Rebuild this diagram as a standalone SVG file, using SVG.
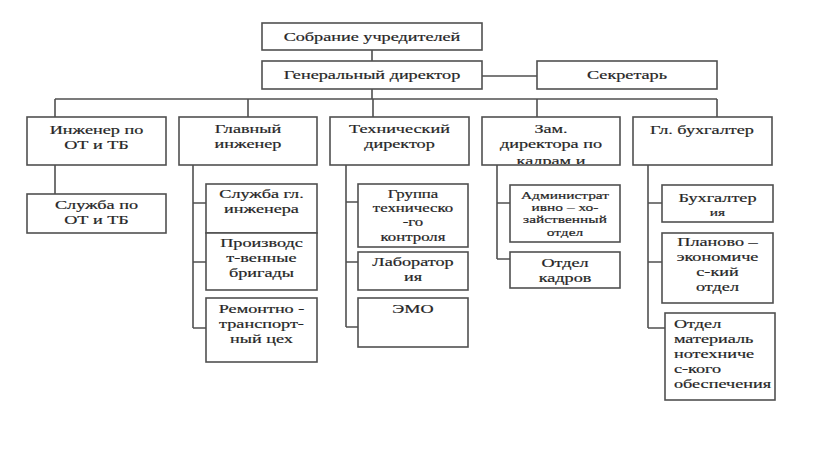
<svg xmlns="http://www.w3.org/2000/svg" width="830" height="452" viewBox="0 0 830 452">
<defs>
<style>
.bx{fill:#fff;stroke:#505050;stroke-width:1.6}
.ln{fill:none;stroke:#505050;stroke-width:1.6}
.t{font-family:"Liberation Serif","Times New Roman",serif;font-size:13px;fill:#262626;text-anchor:middle}
.t text{stroke:#262626;stroke-width:0.2}
.t text.s{font-size:11px}
.t text.m{font-size:12px}
.t text.l{text-anchor:start}
</style>
<clipPath id="c7"><rect x="482" y="117" width="138" height="47"/></clipPath>
</defs>
<rect width="830" height="452" fill="#fff"/>
<g id="connectors" class="ln">
<path d="M372 50V61M482 76H537M372 89V99M55 99H717M55 99V117M248 99V117M373 99V117M537 99V117M717 99V117"/>
<path d="M55 165V194"/>
<path d="M193 165V328M193 203H206M193 262H206M193 328H206"/>
<path d="M346 165V327M346 202H358M346 262H358M346 327H358"/>
<path d="M497 165V259M497 203H510M497 259H510"/>
<path d="M648 165V328M648 203H662M648 262H662M648 328H665"/>
</g>
<g id="n1"><rect class="bx" x="262" y="23" width="220" height="27"/><g class="t" transform="scale(1.4 1)"><text x="265.71" y="41">Собрание учредителей</text></g></g>
<g id="n2"><rect class="bx" x="262" y="61" width="220" height="28"/><g class="t" transform="scale(1.4 1)"><text x="265.71" y="79">Генеральный директор</text></g></g>
<g id="n3"><rect class="bx" x="537" y="61" width="180" height="28"/><g class="t" transform="scale(1.4 1)"><text x="447.86" y="79">Секретарь</text></g></g>
<g id="n4"><rect class="bx" x="27" y="117" width="139" height="48"/><g class="t" transform="scale(1.4 1)"><text x="68.93" y="134">Инженер по</text><text x="68.93" y="149">ОТ и ТБ</text></g></g>
<g id="n5"><rect class="bx" x="179" y="117" width="138" height="48"/><g class="t" transform="scale(1.4 1)"><text x="177.14" y="133">Главный</text><text x="177.14" y="148">инженер</text></g></g>
<g id="n6"><rect class="bx" x="330" y="117" width="139" height="48"/><g class="t" transform="scale(1.4 1)"><text x="285.36" y="133">Технический</text><text x="285.36" y="148">директор</text></g></g>
<g id="n7"><rect class="bx" x="482" y="117" width="138" height="48"/><g clip-path="url(#c7)"><g class="t" transform="scale(1.4 1)"><text x="393.57" y="133">Зам.</text><text x="393.57" y="148">директора по</text><text x="393.57" y="165">кадрам и</text></g></g></g>
<g id="n8"><rect class="bx" x="633" y="117" width="139" height="48"/><g class="t" transform="scale(1.4 1)"><text x="501.43" y="134">Гл. бухгалтер</text></g></g>
<g id="n9"><rect class="bx" x="27" y="194" width="139" height="39"/><g class="t" transform="scale(1.4 1)"><text x="68.93" y="209">Служба по</text><text x="68.93" y="224">ОТ и ТБ</text></g></g>
<g id="n10"><rect class="bx" x="206" y="184" width="111" height="49"/><g class="t" transform="scale(1.4 1)"><text x="186.79" y="198">Служба гл.</text><text x="186.79" y="213">инженера</text></g></g>
<g id="n11"><rect class="bx" x="206" y="233" width="111" height="57"/><g class="t" transform="scale(1.4 1)"><text x="186.79" y="247">Производс</text><text x="186.79" y="262">т-венные</text><text x="186.79" y="277">бригады</text></g></g>
<g id="n12"><rect class="bx" x="206" y="298" width="111" height="64"/><g class="t" transform="scale(1.4 1)"><text x="186.79" y="313">Ремонтно -</text><text x="186.79" y="328">транспорт-</text><text x="186.79" y="343">ный цех</text></g></g>
<g id="n13"><rect class="bx" x="358" y="184" width="110" height="63"/><g class="t" transform="scale(1.4 1)"><text class="m" x="295" y="198">Группа</text><text class="m" x="295" y="212">техническо</text><text class="m" x="295" y="226">-го</text><text class="m" x="295" y="241">контроля</text></g></g>
<g id="n14"><rect class="bx" x="358" y="252" width="110" height="38"/><g class="t" transform="scale(1.4 1)"><text x="295" y="266">Лаборатор</text><text x="295" y="281">ия</text></g></g>
<g id="n15"><rect class="bx" x="358" y="298" width="110" height="49"/><g class="t" transform="scale(1.4 1)"><text x="295" y="313">ЭМО</text></g></g>
<g id="n16"><rect class="bx" x="510" y="185" width="110" height="57"/><g class="t" transform="scale(1.4 1)"><text class="s" x="403.57" y="199">Администрат</text><text class="s" x="403.57" y="211">ивно – хо-</text><text class="s" x="403.57" y="223">зайственный</text><text class="s" x="403.57" y="236">отдел</text></g></g>
<g id="n17"><rect class="bx" x="510" y="252" width="110" height="36"/><g class="t" transform="scale(1.4 1)"><text x="403.57" y="267">Отдел</text><text x="403.57" y="282">кадров</text></g></g>
<g id="n18"><rect class="bx" x="662" y="185" width="111" height="37"/><g class="t" transform="scale(1.4 1)"><text x="512.5" y="202">Бухгалтер</text><text class="s" x="512.5" y="216">ия</text></g></g>
<g id="n19"><rect class="bx" x="662" y="233" width="111" height="70"/><g class="t" transform="scale(1.4 1)"><text x="512.5" y="246">Планово –</text><text x="512.5" y="261">экономиче</text><text x="512.5" y="276">с-кий</text><text x="512.5" y="291">отдел</text></g></g>
<g id="n20"><rect class="bx" x="665" y="313" width="110" height="87"/><g class="t" transform="scale(1.4 1)"><text class="l" x="481.43" y="328">Отдел</text><text class="l" x="481.43" y="343">материаль</text><text class="l" x="481.43" y="358">нотехниче</text><text class="l" x="481.43" y="373">с-кого</text><text class="l" x="481.43" y="388">обеспечения</text></g></g>
</svg>
